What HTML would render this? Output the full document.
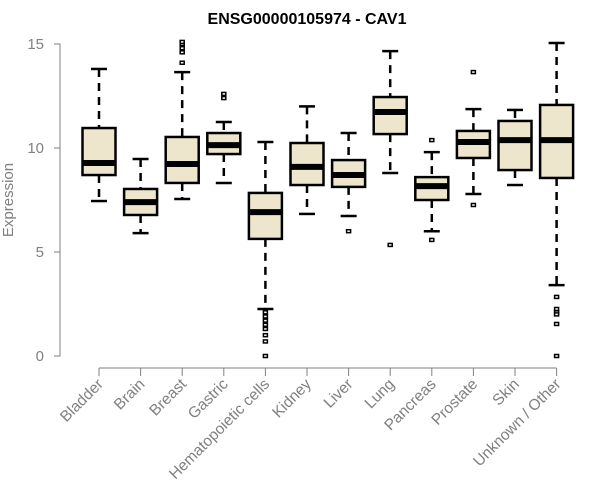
<!DOCTYPE html>
<html><head><meta charset="utf-8"><style>
body{margin:0;background:#fff;}
svg{display:block;font-family:"Liberation Sans",Arial,sans-serif;}
</style></head><body>
<svg id="chart" width="600" height="500" viewBox="0 0 600 500" xmlns="http://www.w3.org/2000/svg">
<text x="307" y="24" text-anchor="middle" font-size="16" font-weight="bold" fill="#000">ENSG00000105974 - CAV1</text>
<text transform="translate(13,200) rotate(-90)" text-anchor="middle" font-size="15" fill="#808080">Expression</text>
<g id="axes"></g>
<g id="boxes"></g>
</svg>
<script>
const categories=["Bladder","Brain","Breast","Gastric","Hematopoietic cells","Kidney","Liver","Lung","Pancreas","Prostate","Skin","Unknown / Other"];
const whiskerLow=[7.45,5.91,7.55,8.32,2.26,6.83,6.73,8.8,6.0,7.79,8.22,3.41];
const q1=[8.7,6.78,8.32,9.71,5.63,8.22,8.13,10.67,7.5,9.52,8.94,8.56];
const medians=[9.28,7.4,9.23,10.14,6.92,9.09,8.7,11.73,8.17,10.29,10.38,10.38];
const q3=[10.96,8.03,10.53,10.72,7.84,10.24,9.42,12.45,8.6,10.82,11.3,12.07];
const whiskerHigh=[13.8,9.47,13.65,11.25,10.29,12.0,10.72,14.66,9.8,11.87,11.83,15.05];
const outliers=[[],[],[14.1,14.6,14.8,15.0,15.1],[12.4,12.6],[2.1,1.9,1.7,1.5,1.3,1.0,0.7,0.0],[],[6.0],[5.34],[10.38,5.58],[13.65,7.26],[],[2.84,2.26,2.1,2.0,1.54,0.0]];
const yTicks=[0,5,10,15];

const NS="http://www.w3.org/2000/svg";
const y=v=>356-v*20.8;
const x=i=>99+i*41.6;
function mk(tag,attrs,parent){const e=document.createElementNS(NS,tag);for(const k in attrs)e.setAttribute(k,attrs[k]);parent.appendChild(e);return e;}
const axes=document.getElementById('axes'),boxes=document.getElementById('boxes');
const ya=mk('path',{d:`M54,${y(15)}H60V${y(0)}H54`,stroke:'#808080',fill:'none','stroke-width':1},axes);


yTicks.forEach(t=>{
  const l=mk('line',{x1:54,x2:60,y1:y(t),y2:y(t),stroke:'#808080'},axes);
  
  
  const tx=mk('text',{x:44,y:y(t)+5,'text-anchor':'end','font-size':15,fill:'#808080'},axes);tx.textContent=t;
  
  
});
const xa=mk('line',{x1:x(0),x2:x(categories.length-1),y1:368,y2:368,stroke:'#808080'},axes);


categories.forEach((c,i)=>{
  const l=mk('line',{x1:x(i),x2:x(i),y1:368,y2:376,stroke:'#808080'},axes);
  
  
  const t=mk('text',{transform:`translate(${x(i)+5},385) rotate(-45)`,'text-anchor':'end','font-size':15.5,fill:'#808080'},axes);
  t.textContent=c;
  
  
  const g=mk('g',{},boxes);
  
  
  const cx=x(i),hw=16.5;
  mk('line',{x1:cx,x2:cx,y1:y(whiskerHigh[i]),y2:y(q3[i]),stroke:'#000','stroke-width':2.5,'stroke-dasharray':'8,6'},g);
  mk('line',{x1:cx,x2:cx,y1:y(q1[i]),y2:y(whiskerLow[i]),stroke:'#000','stroke-width':2.5,'stroke-dasharray':'8,6'},g);
  mk('line',{x1:cx-8,x2:cx+8,y1:y(whiskerHigh[i]),y2:y(whiskerHigh[i]),stroke:'#000','stroke-width':2.5},g);
  mk('line',{x1:cx-8,x2:cx+8,y1:y(whiskerLow[i]),y2:y(whiskerLow[i]),stroke:'#000','stroke-width':2.5},g);
  mk('rect',{x:cx-hw,y:y(q3[i]),width:hw*2,height:y(q1[i])-y(q3[i]),fill:'#ede6cc',stroke:'#000','stroke-width':2.5},g);
  mk('line',{x1:cx-hw,x2:cx+hw,y1:y(medians[i]),y2:y(medians[i]),stroke:'#000','stroke-width':6},g);
  outliers[i].forEach(o=>{
    const p=mk('rect',{x:cx-2,y:y(o)-1.5,width:4,height:3,fill:'#fff',stroke:'#000','stroke-width':1.5},g);
    
    
  });
});
</script>
</body></html>
